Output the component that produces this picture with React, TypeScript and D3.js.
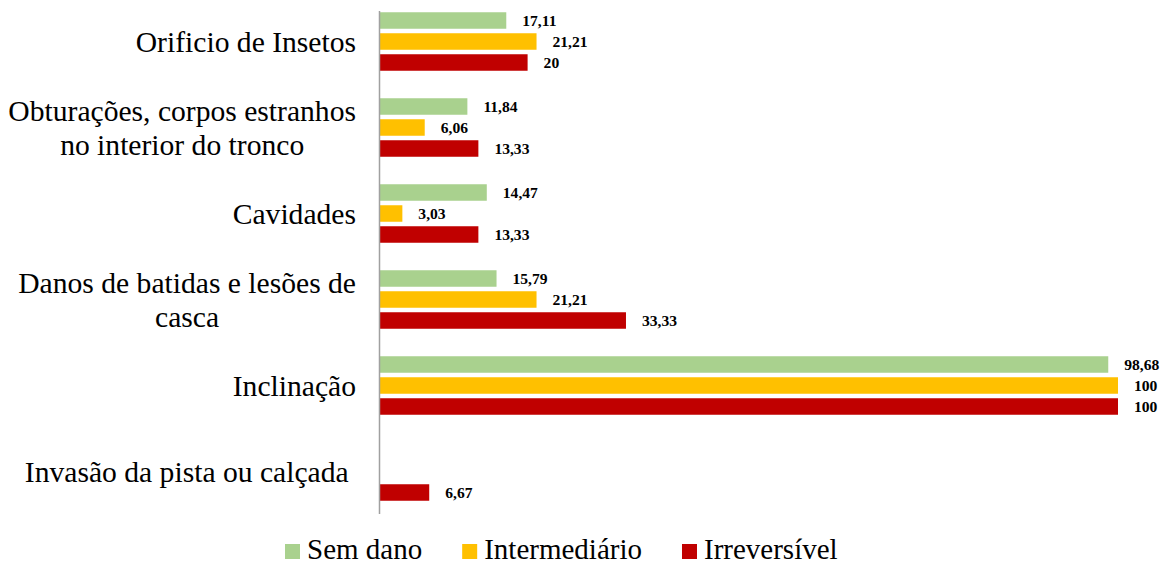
import React from "react";
import * as d3 from "d3";

const categories: string[][] = [
  ["Orificio de Insetos"],
  ["Obturações, corpos estranhos", "no interior do tronco"],
  ["Cavidades"],
  ["Danos de batidas e lesões de", "casca"],
  ["Inclinação"],
  ["Invasão da pista ou calçada\u00a0"],
];
const series = ["Sem dano", "Intermediário", "Irreversível"];
const colors = ["#A9D18E", "#FFC000", "#C00000"];
const semDano: (number | null)[] = [17.11, 11.84, 14.47, 15.79, 98.68, null];
const intermediario: (number | null)[] = [21.21, 6.06, 3.03, 21.21, 100, null];
const irreversivel: (number | null)[] = [20, 13.33, 13.33, 33.33, 100, 6.67];
const seriesValues = [semDano, intermediario, irreversivel];

const W = 1167;
const H = 566;
const FONT = "'Liberation Serif', 'Times New Roman', Times, serif";
const CAT_SIZE = 29.6;
const LEG_SIZE = 29;
const LBL_SIZE = 15.6;

let ctx: CanvasRenderingContext2D | null = null;
function measure(text: string, font: string): number {
  if (!ctx) {
    const c = document.createElement("canvas");
    ctx = c.getContext("2d");
  }
  if (!ctx) return text.length * 12;
  ctx.font = font;
  return ctx.measureText(text).width;
}

export default function App() {
  React.useEffect(() => {
    document.body.style.margin = "0";
  }, []);

  const catKeys = categories.map((c) => c.join(" "));
  const y0 = d3.scaleBand<string>().domain(catKeys).range([-1.5, 514.5]).padding(0);
  const innerLen = 58.5;
  const y1 = d3
    .scaleBand<string>()
    .domain(series)
    .range([(y0.bandwidth() - innerLen) / 2, (y0.bandwidth() + innerLen) / 2])
    .paddingInner(4.5 / 21)
    .paddingOuter(0);
  const x = d3.scaleLinear().domain([0, 100]).range([380, 1118]);

  const labelRight = 356;
  const catFont = `${CAT_SIZE}px ${FONT}`;
  const lineH = 33.6;

  // legend layout
  const legendFont = `${LEG_SIZE}px ${FONT}`;
  const sq = 15;
  const sqGap = 7;
  const itemGap = 40;
  let lx = 285;
  const legendItems = series.map((s, i) => {
    const tw = measure(s, legendFont);
    const item = { s, i, x: lx };
    lx += sq + sqGap + tw + itemGap;
    return item;
  });

  return (
    <svg
      width={W}
      height={H}
      style={{ position: "absolute", left: 0, top: 0, background: "#fff" }}
      fontFamily={FONT}
    >
      <rect x={0} y={0} width={W} height={H} fill="#fff" />
      {categories.map((lines, ci) => {
        const key = catKeys[ci];
        const cy = (y0(key) as number) + y0.bandwidth() / 2;
        const maxW = Math.max(...lines.map((l) => measure(l, catFont)));
        const multi = lines.length > 1;
        const cx = multi ? labelRight - maxW / 2 : labelRight;
        return (
          <g key={key}>
            {lines.map((l, li) => {
              const off = (li - (lines.length - 1) / 2) * lineH;
              return (
                <text
                  key={li}
                  x={cx}
                  y={cy + off + CAT_SIZE * 0.35}
                  fontSize={CAT_SIZE}
                  textAnchor={multi ? "middle" : "end"}
                  fill="#000"
                  style={{ whiteSpace: "pre" }}
                >
                  {l}
                </text>
              );
            })}
            {series.map((s, si) => {
              const v = seriesValues[si][ci];
              if (v === null) return null;
              const by = (y0(key) as number) + (y1(s) as number);
              const bh = y1.bandwidth();
              return (
                <g key={s}>
                  <rect x={x(0)} y={by} width={x(v) - x(0)} height={bh} fill={colors[si]} />
                  <text
                    x={x(v) + 16}
                    y={by + bh / 2 + LBL_SIZE * 0.34}
                    fontSize={LBL_SIZE}
                    fontWeight="bold"
                    fill="#000"
                  >
                    {String(v).replace(".", ",")}
                  </text>
                </g>
              );
            })}
          </g>
        );
      })}
      <line x1={379.5} x2={379.5} y1={11} y2={514} stroke="#A0A0A0" strokeWidth={1.5} />
      {legendItems.map((it) => (
        <g key={it.s}>
          <rect x={it.x} y={544} width={sq} height={sq} fill={colors[it.i]} />
          <text x={it.x + sq + sqGap} y={559} fontSize={LEG_SIZE} fill="#000">
            {it.s}
          </text>
        </g>
      ))}
    </svg>
  );
}
